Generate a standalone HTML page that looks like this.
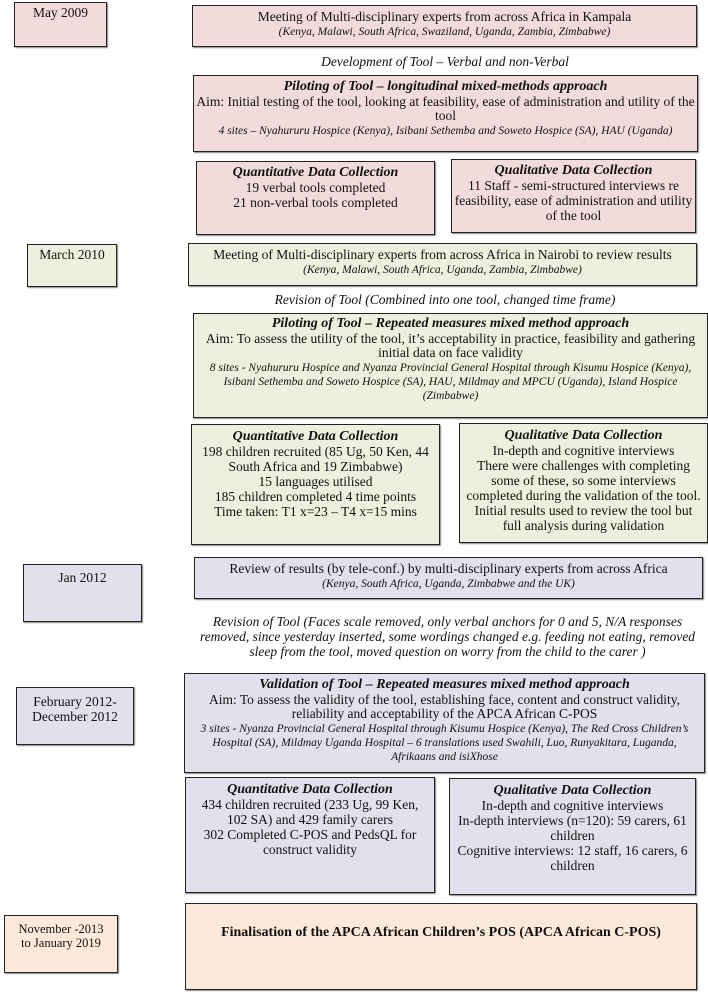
<!DOCTYPE html>
<html><head><meta charset="utf-8"><style>
body{margin:0;width:708px;height:992px;background:#fff;position:relative;overflow:hidden;font-family:"Liberation Serif",serif;color:#111;}
.b{position:absolute;box-sizing:border-box;border:1.5px solid #222;box-shadow:1px 1px 1px #888;text-align:center;font-size:13.5px;line-height:14.5px;padding-top:3px;}
.p{background:#f2dcdb}.g{background:#ebf1de}.l{background:#e4dfec}.o{background:#fde9d9}
.s{font-size:11.5px;font-style:italic;line-height:14px}
.h{font-weight:bold;font-style:italic;font-size:14px}
.t{position:absolute;left:185px;width:520px;text-align:center;font-style:italic;font-size:13.5px;line-height:15px}
</style></head><body>
<div class="b p" style="left:14px;top:2px;width:93px;height:45px">May 2009</div>
<div class="b p" style="left:192px;top:5px;width:505px;height:42px;padding-top:4px">Meeting of Multi-disciplinary experts from across Africa in Kampala<div class="s">(Kenya, Malawi, South Africa, Swaziland, Uganda, Zambia, Zimbabwe)</div></div>
<div class="t" style="top:54px">Development of Tool – Verbal and non-Verbal</div>
<div class="b p" style="left:193px;top:75px;width:505px;height:77px;padding-top:4px"><div class="h">Piloting of Tool – longitudinal mixed-methods approach</div>Aim: Initial testing of the tool, looking at feasibility, ease of administration and utility of the tool<div class="s">4 sites – Nyahururu Hospice (Kenya), Isibani Sethemba and Soweto Hospice (SA), HAU (Uganda)</div></div>
<div class="b p" style="left:196px;top:161px;width:239px;height:74px;line-height:15px"><div class="h">Quantitative Data Collection</div>19 verbal tools completed<br>21 non-verbal tools completed</div>
<div class="b p" style="left:451px;top:159px;width:245px;height:74px;line-height:15px"><div class="h">Qualitative Data Collection</div>11 Staff - semi-structured interviews re feasibility, ease of administration and utility of the tool</div>
<div class="b g" style="left:27px;top:244px;width:90px;height:43px">March 2010</div>
<div class="b g" style="left:188px;top:243px;width:509px;height:43px;padding-top:4px">Meeting of Multi-disciplinary experts from across Africa in Nairobi to review results<div class="s">(Kenya, Malawi, South Africa, Uganda, Zambia, Zimbabwe)</div></div>
<div class="t" style="top:292px">Revision of Tool (Combined into one tool, changed time frame)</div>
<div class="b g" style="left:193px;top:313px;width:515px;height:105px;padding:3px 6px 0"><div class="h">Piloting of Tool – Repeated measures mixed method approach</div>Aim: To assess the utility of the tool, it’s acceptability in practice, feasibility and gathering initial data on face validity<div class="s">8 sites - Nyahururu Hospice and Nyanza Provincial General Hospital through Kisumu Hospice (Kenya), Isibani Sethemba and Soweto Hospice (SA), HAU, Mildmay and MPCU (Uganda), Island Hospice (Zimbabwe)</div></div>
<div class="b g" style="left:191px;top:424px;width:249px;height:121px;line-height:15px;padding:4px 8px 0"><div class="h">Quantitative Data Collection</div>198 children recruited (85 Ug, 50 Ken, 44 South Africa and 19 Zimbabwe)<br>15 languages utilised<br>185 children completed 4 time points<br>Time taken: T1 x=23 – T4 x=15 mins</div>
<div class="b g" style="left:459px;top:423px;width:249px;height:120px;line-height:15px;padding:4px 6px 0"><div class="h">Qualitative Data Collection</div>In-depth and cognitive interviews<br>There were challenges with completing some of these, so some interviews completed during the validation of the tool. Initial results used to review the tool but full analysis during validation</div>
<div class="b l" style="left:23px;top:564px;width:119px;height:58px;padding-top:6px">Jan 2012</div>
<div class="b l" style="left:194px;top:557px;width:509px;height:42px;padding-top:4px">Review of results (by tele-conf.) by multi-disciplinary experts from across Africa<div class="s">(Kenya, South Africa, Uganda, Zimbabwe and the UK)</div></div>
<div class="t" style="top:614px;left:195px;width:505px">Revision of Tool (Faces scale removed, only verbal anchors for 0 and 5, N/A responses removed, since yesterday inserted, some wordings changed e.g. feeding not eating, removed sleep from the tool, moved question on worry from the child to the carer )</div>
<div class="b l" style="left:16px;top:687px;width:118px;height:58px;padding-top:6px;line-height:15px">February 2012-<br>December 2012</div>
<div class="b l" style="left:184px;top:673px;width:521px;height:100px;padding:4px 6px 0"><div class="h">Validation of Tool – Repeated measures mixed method approach</div>Aim: To assess the validity of the tool, establishing face, content and construct validity, reliability and acceptability of the APCA African C-POS<div class="s">3 sites - Nyanza Provincial General Hospital through Kisumu Hospice (Kenya), The Red Cross Children’s Hospital (SA), Mildmay Uganda Hospital – 6 translations used Swahili, Luo, Runyakitara, Luganda, Afrikaans and isiXhose</div></div>
<div class="b l" style="left:185px;top:777px;width:250px;height:116px;line-height:15px;padding:4px 8px 0"><div class="h">Quantitative Data Collection</div>434 children recruited (233 Ug, 99 Ken, 102 SA) and 429 family carers<br>302 Completed C-POS and PedsQL for construct validity</div>
<div class="b l" style="left:449px;top:778px;width:247px;height:117px;line-height:15px;padding:4px 6px 0"><div class="h">Qualitative Data Collection</div>In-depth and cognitive interviews<br>In-depth interviews (n=120): 59 carers, 61 children<br>Cognitive interviews: 12 staff, 16 carers, 6 children</div>
<div class="b o" style="left:4px;top:915px;width:114px;height:58px;font-size:12.5px;line-height:14px;padding-top:6px">November -2013<br>to January 2019</div>
<div class="b o" style="left:185px;top:903px;width:512px;height:87px;padding-top:22px;font-weight:bold;font-size:14px">Finalisation of the APCA African Children’s POS (APCA African C-POS)</div>
</body></html>
